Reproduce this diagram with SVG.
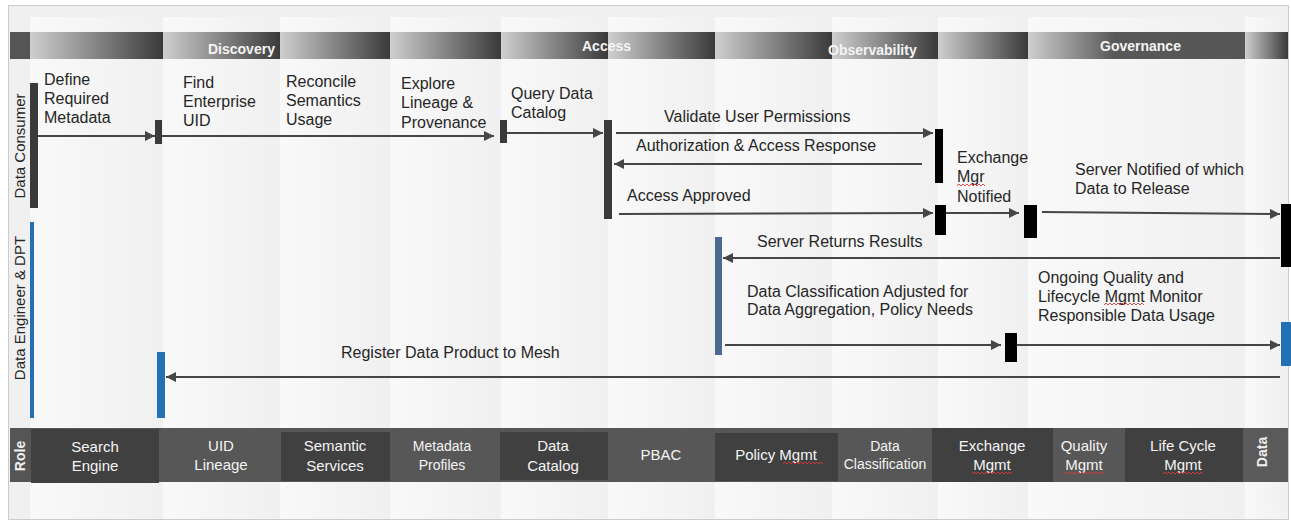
<svg xmlns="http://www.w3.org/2000/svg" width="1291" height="520" viewBox="0 0 1291 520">
  <defs>
    <linearGradient id="colBg" x1="0" y1="0" x2="1" y2="0">
      <stop offset="0" stop-color="#f9f9f9"/>
      <stop offset="1" stop-color="#f0f0f0"/>
    </linearGradient>
    <linearGradient id="hdr" x1="0" y1="0" x2="1" y2="0">
      <stop offset="0" stop-color="#cfcfcf"/>
      <stop offset="1" stop-color="#3a3a3a"/>
    </linearGradient>
    <linearGradient id="hdrGov" x1="0" y1="0" x2="1" y2="0">
      <stop offset="0" stop-color="#cfcfcf"/>
      <stop offset="0.4" stop-color="#585858"/>
      <stop offset="1" stop-color="#555555"/>
    </linearGradient>
    <marker id="arrow" markerUnits="userSpaceOnUse" markerWidth="11" markerHeight="11" refX="10" refY="5" orient="auto">
      <path d="M0,0 L10,5 L0,10 z" fill="#464646"/>
    </marker>
    <style>
      text { font-family: "Liberation Sans", Arial, sans-serif; }
      .lbl { font-size: 16px; fill: #262626; }
      .hd { font-size: 14px; font-weight: bold; fill: #f4f4f4; }
      .bt { font-size: 15px; fill: #f4f4f4; text-anchor: middle; }
      .bts { font-size: 14px; fill: #f4f4f4; text-anchor: middle; }
      .role { font-size: 15px; fill: #262626; text-anchor: middle; }
      .conn { stroke: #464646; stroke-width: 2; fill: none; marker-end: url(#arrow); }
      .act { fill: #3a3a3a; }
      .blk { fill: #000000; }
      .blue { fill: #2470b5; }
      .slate { fill: #4d6a8e; }
      .hseg { fill: url(#hdr); }
      .box { fill: #404040; }
      .squiggle { stroke: #d83a3a; stroke-width: 0.9; fill: none; }
    </style>
  </defs>

  <!-- frame and column backdrop -->
  <rect x="8.5" y="5.5" width="1280" height="514" fill="#f0f0f0" stroke="#cccccc" stroke-width="1"/>
  <g id="columns">
    <rect x="30" y="17" width="133" height="502" fill="url(#colBg)"/>
    <rect x="163" y="17" width="117" height="502" fill="url(#colBg)"/>
    <rect x="280" y="17" width="110" height="502" fill="url(#colBg)"/>
    <rect x="390" y="17" width="111" height="502" fill="url(#colBg)"/>
    <rect x="501" y="17" width="107" height="502" fill="url(#colBg)"/>
    <rect x="608" y="17" width="107" height="502" fill="url(#colBg)"/>
    <rect x="715" y="17" width="117" height="502" fill="url(#colBg)"/>
    <rect x="832" y="17" width="106" height="502" fill="url(#colBg)"/>
    <rect x="938" y="17" width="90" height="502" fill="url(#colBg)"/>
    <rect x="1028" y="17" width="217" height="502" fill="url(#colBg)"/>
    <rect x="1245" y="17" width="43" height="502" fill="url(#colBg)"/>
  </g>

  <!-- phase header band -->
  <g id="header">
    <rect x="10" y="32" width="1278" height="27" fill="#555555"/>
    <rect class="hseg" x="30" y="32" width="133" height="27"/>
    <rect class="hseg" x="163" y="32" width="117" height="27"/>
    <rect class="hseg" x="280" y="32" width="110" height="27"/>
    <rect class="hseg" x="390" y="32" width="111" height="27"/>
    <rect class="hseg" x="501" y="32" width="107" height="27"/>
    <rect class="hseg" x="608" y="32" width="107" height="27"/>
    <rect class="hseg" x="715" y="32" width="117" height="27"/>
    <rect class="hseg" x="832" y="32" width="106" height="27"/>
    <rect class="hseg" x="938" y="32" width="90" height="27"/>
    <rect x="1028" y="32" width="217" height="27" fill="url(#hdrGov)"/>
    <rect class="hseg" x="1245" y="32" width="43" height="27"/>
    <text class="hd" x="208" y="54">Discovery</text>
    <text class="hd" x="582" y="51">Access</text>
    <text class="hd" x="828" y="55">Observability</text>
    <text class="hd" x="1100" y="51">Governance</text>
  </g>

  <!-- role lanes -->
  <g id="lane-consumer">
    <text class="role" transform="translate(25,146) rotate(-90)">Data Consumer</text>
    <rect class="act" x="30" y="83" width="8" height="125"/>
  </g>
  <g id="lane-engineer">
    <text class="role" transform="translate(25,308) rotate(-90)">Data Engineer &amp; DPT</text>
    <rect class="blue" x="30" y="222" width="4" height="196"/>
  </g>

  <!-- steps -->
  <g id="step-define">
    <text class="lbl" x="44" y="85">Define</text>
    <text class="lbl" x="44" y="104">Required</text>
    <text class="lbl" x="44" y="123">Metadata</text>
  </g>
  <g id="step-find">
    <rect class="act" x="155" y="120" width="7" height="24"/>
    <text class="lbl" x="183" y="88">Find</text>
    <text class="lbl" x="183" y="107">Enterprise</text>
    <text class="lbl" x="183" y="126">UID</text>
  </g>
  <g id="step-reconcile">
    <text class="lbl" x="286" y="87">Reconcile</text>
    <text class="lbl" x="286" y="106">Semantics</text>
    <text class="lbl" x="286" y="125">Usage</text>
  </g>
  <g id="step-explore">
    <text class="lbl" x="401" y="89">Explore</text>
    <text class="lbl" x="401" y="108">Lineage &amp;</text>
    <text class="lbl" x="401" y="128">Provenance</text>
  </g>
  <g id="step-query">
    <rect class="act" x="500" y="120" width="7" height="23"/>
    <text class="lbl" x="511" y="99">Query Data</text>
    <text class="lbl" x="511" y="118">Catalog</text>
  </g>
  <g id="pbac">
    <rect class="act" x="604" y="120" width="8" height="99"/>
  </g>
  <g id="policy-check">
    <rect class="blk" x="935" y="129" width="8" height="54"/>
  </g>
  <g id="policy-approve">
    <rect class="blk" x="935" y="205" width="11" height="30"/>
    <text class="lbl" x="957" y="163">Exchange</text>
    <text class="lbl" x="957" y="182">Mgr</text>
    <text class="lbl" x="957" y="202">Notified</text>
  </g>
  <g id="exchange">
    <rect class="blk" x="1024" y="205" width="13" height="33"/>
    <text class="lbl" x="1075" y="175">Server Notified of which</text>
    <text class="lbl" x="1075" y="194">Data to Release</text>
  </g>
  <g id="data-server">
    <rect class="blk" x="1281" y="204" width="10" height="63"/>
  </g>
  <g id="policy-mgmt">
    <rect class="slate" x="715" y="237" width="7" height="118"/>
    <text class="lbl" x="747" y="297">Data Classification Adjusted for</text>
    <text class="lbl" x="747" y="315">Data Aggregation, Policy Needs</text>
  </g>
  <g id="classification">
    <rect class="blk" x="1005" y="333" width="12" height="29"/>
    <text class="lbl" x="1038" y="283">Ongoing Quality and</text>
    <text class="lbl" x="1038" y="302">Lifecycle Mgmt Monitor</text>
    <text class="lbl" x="1038" y="321">Responsible Data Usage</text>
  </g>
  <g id="data-product">
    <rect class="blue" x="1281" y="322" width="10" height="44"/>
  </g>
  <g id="uid-register">
    <rect class="blue" x="157" y="352" width="8" height="66"/>
  </g>

  <!-- message connectors -->
  <g id="connectors">
    <path class="conn" d="M38,136 H155"/>
    <path class="conn" d="M162,136 H494"/>
    <path class="conn" d="M507,133 H603"/>
    <path class="conn" d="M616,133 H933"/>
    <path class="conn" d="M922,164 H614"/>
    <path class="conn" d="M619,214 L933,213"/>
    <path class="conn" d="M946,213 H1019"/>
    <path class="conn" d="M1042,212 L1280,214"/>
    <path class="conn" d="M1280,258 H723"/>
    <path class="conn" d="M725,345 H1001"/>
    <path class="conn" d="M1017,345 H1280"/>
    <path class="conn" d="M1280,377 H166"/>
    <text class="lbl" x="664" y="122">Validate User Permissions</text>
    <text class="lbl" x="636" y="151">Authorization &amp; Access Response</text>
    <text class="lbl" x="627" y="201">Access Approved</text>
    <text class="lbl" x="757" y="247">Server Returns Results</text>
    <text class="lbl" x="341" y="358">Register Data Product to Mesh</text>
  </g>

  <!-- capability bar -->
  <g id="capabilities">
    <rect x="10" y="428" width="1278" height="54" fill="#575757"/>
    <rect x="10" y="428" width="21" height="54" fill="#555555"/>
    <text transform="translate(25,456) rotate(-90)" font-size="14" font-weight="bold" fill="#f0f0f0" text-anchor="middle">Role</text>
    <rect class="box" x="31" y="429" width="128" height="54"/>
    <text class="bt" x="95" y="452">Search</text>
    <text class="bt" x="95" y="471">Engine</text>
    <text class="bt" x="221" y="451">UID</text>
    <text class="bt" x="221" y="470">Lineage</text>
    <rect class="box" x="281" y="432" width="109" height="49"/>
    <text class="bt" x="335" y="451">Semantic</text>
    <text class="bt" x="335" y="471">Services</text>
    <text class="bts" x="442" y="451">Metadata</text>
    <text class="bts" x="442" y="470">Profiles</text>
    <rect class="box" x="500" y="432" width="108" height="48"/>
    <text class="bt" x="553" y="451">Data</text>
    <text class="bt" x="553" y="471">Catalog</text>
    <text class="bt" x="661" y="460">PBAC</text>
    <rect class="box" x="715" y="433" width="123" height="48"/>
    <text class="bt" x="776" y="460">Policy Mgmt</text>
    <text class="bts" x="885" y="451">Data</text>
    <text class="bts" x="885" y="469">Classification</text>
    <rect class="box" x="932" y="428" width="121" height="54"/>
    <text class="bt" x="992" y="451">Exchange</text>
    <text class="bt" x="992" y="470">Mgmt</text>
    <text class="bt" x="1084" y="451">Quality</text>
    <text class="bt" x="1084" y="470">Mgmt</text>
    <rect class="box" x="1125" y="428" width="118" height="54"/>
    <text class="bt" x="1183" y="451">Life Cycle</text>
    <text class="bt" x="1183" y="470">Mgmt</text>
    <rect x="1243" y="428" width="45" height="54" fill="#5a5a5a"/>
    <text transform="translate(1267,452) rotate(-90)" font-size="14" font-weight="bold" fill="#f0f0f0" text-anchor="middle">Data</text>
  </g>

  <!-- spell-check underlines on abbreviations -->
  <g id="squiggles" class="squiggle">
    <path d="M957,186 l2,-2 l2,2 l2,-2 l2,2 l2,-2 l2,2 l2,-2 l2,2 l2,-2 l2,2 l2,-2 l2,2 l2,-2 l2,2"/>
    <path d="M1104,305 l2,-2 l2,2 l2,-2 l2,2 l2,-2 l2,2 l2,-2 l2,2 l2,-2 l2,2 l2,-2 l2,2 l2,-2 l2,2 l2,-2 l2,2 l2,-2 l2,2 l2,-2 l2,2"/>
    <path d="M783,464 l2,-2 l2,2 l2,-2 l2,2 l2,-2 l2,2 l2,-2 l2,2 l2,-2 l2,2 l2,-2 l2,2 l2,-2 l2,2 l2,-2 l2,2 l2,-2 l2,2 l2,-2 l2,2"/>
    <path d="M972,474 l2,-2 l2,2 l2,-2 l2,2 l2,-2 l2,2 l2,-2 l2,2 l2,-2 l2,2 l2,-2 l2,2 l2,-2 l2,2 l2,-2 l2,2 l2,-2 l2,2 l2,-2 l2,2"/>
    <path d="M1064,474 l2,-2 l2,2 l2,-2 l2,2 l2,-2 l2,2 l2,-2 l2,2 l2,-2 l2,2 l2,-2 l2,2 l2,-2 l2,2 l2,-2 l2,2 l2,-2 l2,2 l2,-2 l2,2"/>
    <path d="M1163,474 l2,-2 l2,2 l2,-2 l2,2 l2,-2 l2,2 l2,-2 l2,2 l2,-2 l2,2 l2,-2 l2,2 l2,-2 l2,2 l2,-2 l2,2 l2,-2 l2,2 l2,-2 l2,2"/>
  </g>
</svg>
